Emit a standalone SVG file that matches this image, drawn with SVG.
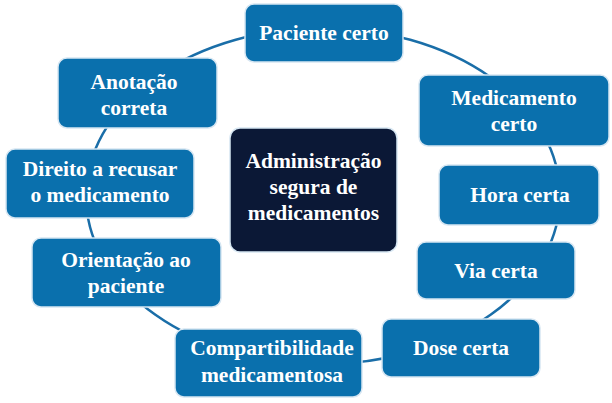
<svg xmlns="http://www.w3.org/2000/svg" width="612" height="403" viewBox="0 0 612 403">
<style>
.n{fill:#0a70ad;stroke:#d6e6f2;stroke-width:1.5}
.c{fill:#0b1836;stroke:#d6e6f2;stroke-width:1.5}
text{font-family:"Liberation Serif","Times New Roman",serif;font-weight:bold;font-size:21.5px;fill:#ffffff;text-anchor:middle}
.ring{fill:none;stroke:#1a6ea8;stroke-width:2.5}
</style>
<rect width="612" height="403" fill="#ffffff"/>
<g id="connectors">
<ellipse class="ring" cx="323" cy="196" rx="237" ry="168"/>
</g>
<g id="center">
<rect class="c" x="230" y="128" width="167" height="124" rx="10"/>
<text x="313.5" y="168">Administração</text>
<text x="313.5" y="194">segura de</text>
<text x="313.5" y="220">medicamentos</text>
</g>
<g id="paciente">
<rect class="n" x="245" y="4" width="158" height="58" rx="9"/>
<text x="324" y="40">Paciente certo</text>
</g>
<g id="medicamento">
<rect class="n" x="419" y="75" width="190" height="71" rx="9"/>
<text x="514" y="105">Medicamento</text>
<text x="514" y="131">certo</text>
</g>
<g id="hora">
<rect class="n" x="439" y="165" width="160" height="60" rx="9"/>
<text x="520" y="202">Hora certa</text>
</g>
<g id="via">
<rect class="n" x="417" y="242" width="158" height="57" rx="9"/>
<text x="496" y="278">Via certa</text>
</g>
<g id="dose">
<rect class="n" x="382" y="319" width="158" height="58" rx="9"/>
<text x="461" y="355">Dose certa</text>
</g>
<g id="compatibilidade">
<rect class="n" x="175" y="329" width="187" height="68" rx="9"/>
<text x="272" y="355">Compartibilidade</text>
<text x="272" y="382">medicamentosa</text>
</g>
<g id="orientacao">
<rect class="n" x="32" y="238" width="189" height="69" rx="9"/>
<text x="126" y="267">Orientação ao</text>
<text x="126" y="293">paciente</text>
</g>
<g id="direito">
<rect class="n" x="6" y="149" width="188" height="69" rx="9"/>
<text x="100" y="176">Direito a recusar</text>
<text x="100" y="202">o medicamento</text>
</g>
<g id="anotacao">
<rect class="n" x="58" y="58" width="159" height="70" rx="9"/>
<text x="134" y="89">Anotação</text>
<text x="134" y="115">correta</text>
</g>
</svg>
